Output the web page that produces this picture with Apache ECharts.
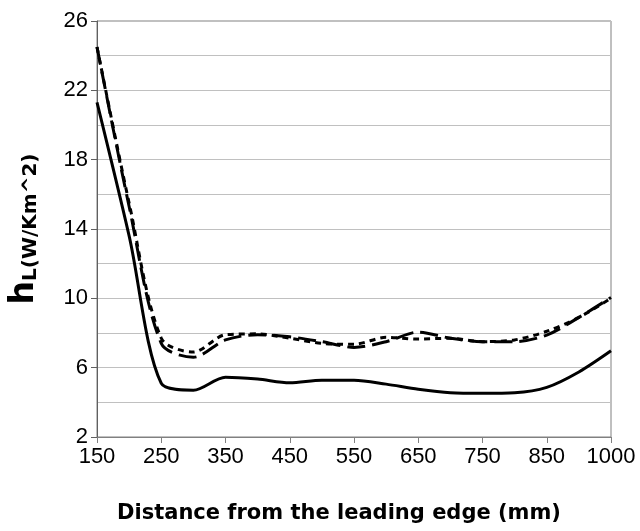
<!DOCTYPE html>
<html>
<head>
<meta charset="utf-8">
<script src="https://cdn.jsdelivr.net/npm/echarts@6/dist/echarts.min.js"></script>
<style>html,body{margin:0;padding:0;background:#fff}#c{width:640px;height:531px}</style>
</head>
<body>
<div id="c"></div>
<script>
var categories = ['150','200','250','300','350','400','450','500','550','600','650','700','750','800','850','900','1000'];
var solidValues = [21.3, 13.6, 5.1, 4.7, 5.45, 5.34, 5.13, 5.28, 5.28, 5.05, 4.75, 4.55, 4.52, 4.55, 4.86, 5.75, 6.97];
var longDashValues = [24.5, 15.3, 7.4, 6.6, 7.6, 7.9, 7.78, 7.5, 7.17, 7.5, 8.05, 7.7, 7.5, 7.5, 7.88, 8.9, 10.05];
var shortDashValues = [24.5, 15.5, 7.7, 6.9, 7.9, 7.95, 7.7, 7.4, 7.35, 7.75, 7.65, 7.7, 7.5, 7.6, 8.1, 8.9, 10.0];
var yTickMin = 2, yTickMax = 26, yTickStep = 4;

var chart = echarts.init(document.getElementById('c'), null, {renderer: 'canvas'});
var font = 'Liberation Sans, Arial, sans-serif';
var titleFont = 'DejaVu Sans, Liberation Sans, sans-serif';
chart.setOption({
  animation: false,
  backgroundColor: '#fff',
  grid: {left: 95, right: 29, top: 21, bottom: 94, show: true, borderColor: '#808080', borderWidth: 1},
  xAxis: {
    type: 'category',
    data: categories,
    boundaryGap: false,
    axisLine: {lineStyle: {color: '#808080', width: 1}},
    axisTick: {show: true, interval: 1, length: 6, lineStyle: {color: '#808080'}},
    axisLabel: {interval: 1, color: '#000', fontFamily: font, fontSize: 22, margin: 9},
    splitLine: {show: false},
    name: 'Distance from the leading edge (mm)',
    nameLocation: 'middle',
    nameGap: 66,
    nameTextStyle: {color: '#000', fontFamily: titleFont, fontSize: 21, fontWeight: 'bold', padding: [0, 30, 0, 0]}
  },
  yAxis: {
    type: 'value',
    min: yTickMin, max: yTickMax, interval: yTickStep,
    axisLine: {show: true, lineStyle: {color: '#606060', width: 1}},
    axisTick: {show: true, length: 6, lineStyle: {color: '#606060'}},
    axisLabel: {color: '#000', fontFamily: font, fontSize: 22, margin: 9},
    splitLine: {show: true, lineStyle: {color: '#c0c0c0', width: 1}},
    minorTick: {show: false, splitNumber: 2},
    minorSplitLine: {show: true, lineStyle: {color: '#c0c0c0', width: 1}},
    name: '{h|h}{s|L(W/Km^2)}',
    nameLocation: 'middle',
    nameRotate: 90,
    nameGap: 56,
    nameTextStyle: {
      rich: {
        h: {fontFamily: titleFont, fontSize: 33, fontWeight: 'bold', color: '#000', verticalAlign: 'bottom', lineHeight: 33},
        s: {fontFamily: titleFont, fontSize: 20, fontWeight: 'bold', color: '#000', verticalAlign: 'bottom', lineHeight: 22}
      }
    }
  },
  series: [
    {type: 'line', data: shortDashValues, smooth: 0.3, showSymbol: false,
     lineStyle: {color: '#000', width: 3, type: [6, 5]}},
    {type: 'line', data: longDashValues, smooth: 0.3, showSymbol: false,
     lineStyle: {color: '#000', width: 3, type: [18, 7]}},
    {type: 'line', data: solidValues, smooth: 0.3, showSymbol: false,
     lineStyle: {color: '#000', width: 3, type: 'solid'}}
  ]
});
</script>
</body>
</html>
